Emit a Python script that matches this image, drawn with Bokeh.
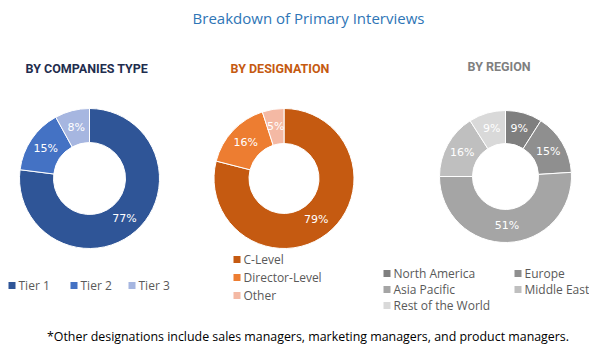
import math
from bokeh.plotting import figure
from bokeh.models import Range1d, ColumnDataSource
from bokeh.core.properties import value
from bokeh.embed import file_html
from bokeh.resources import INLINE

# ---- data ----
company_types = ["Tier 1", "Tier 2", "Tier 3"]
company_share = [77, 15, 8]
designations = ["C-Level", "Director-Level", "Other"]
designation_share = [79, 16, 5]
regions = ["North America", "Europe", "Asia Pacific", "Middle East", "Rest of the World"]
region_share = [9, 15, 51, 16, 9]

title_text = "Breakdown of Primary Interviews"
footnote_text = "*Other designations include sales managers, marketing managers, and product managers."

company_colors = ["#2F5597", "#4472C4", "#A6B6E0"]
designation_colors = ["#C55A11", "#ED7D31", "#F4B9A4"]
region_colors = ["#7F7F7F", "#8F8F8F", "#A5A5A5", "#BFBFBF", "#D9D9D9"]

W, H = 589, 348
p = figure(width=W, height=H, output_backend="svg", toolbar_location=None,
           x_range=Range1d(0, W), y_range=Range1d(356 - H, 356),
           min_border=0, min_border_left=0, min_border_right=0,
           min_border_top=0, min_border_bottom=0)
p.axis.visible = False
p.grid.visible = False
p.outline_line_color = None
p.background_fill_color = "white"


def Y(yy):
    return 356 - yy


def donut(cx, cy, R, r, shares, colors):
    total = float(sum(shares))
    starts, ends, lx, ly, labels = [], [], [], [], []
    cum = 0.0
    for s in shares:
        a0 = math.pi / 2 - cum / total * 2 * math.pi
        cum += s
        a1 = math.pi / 2 - cum / total * 2 * math.pi
        starts.append(a0)
        ends.append(a1)
        mid = (a0 + a1) / 2
        rm = (R + r) / 2
        lx.append(cx + rm * math.cos(mid))
        ly.append(Y(cy) + rm * math.sin(mid))
        labels.append(f"{s}%")
    src = ColumnDataSource(dict(x=[cx] * len(shares), y=[Y(cy)] * len(shares),
                                start=starts, end=ends, color=colors))
    p.annular_wedge(x="x", y="y", inner_radius=r, outer_radius=R,
                    inner_radius_units="screen", outer_radius_units="screen",
                    start_angle="start", end_angle="end", direction="clock",
                    fill_color="color", line_color="white", line_width=1, source=src)
    p.text(x=lx, y=ly, text=labels, text_color="white", text_font=value("DejaVu Sans"),
           text_font_size="11px", text_align="center", text_baseline="middle")


donut(89, 178, 70, 36, company_share, company_colors)
donut(283.5, 178, 70, 35, designation_share, designation_colors)
donut(505, 176, 66, 33, region_share, region_colors)

# titles
p.text(x=[308], y=[Y(17)], text=[title_text], text_color="#2E75B6",
       text_font=value("Open Sans"), text_font_size="15px",
       text_align="center", text_baseline="middle")
for tx, ty, t, c in [(25, 68, "BY COMPANIES TYPE", "#1F2D4E"),
                     (230, 68, "BY DESIGNATION", "#C55A11"),
                     (467, 66, "BY REGION", "#7F7F7F")]:
    p.text(x=[tx], y=[Y(ty)], text=[t], text_color=c, text_font=value("Roboto"),
           text_font_style="bold", text_font_size="12.5px",
           text_align="left", text_baseline="middle")

# legends
legend_font = value("Open Sans")
legend_color = "#595959"


def legend(items, colors, xs, ys):
    sx = [x + 3.5 for x in xs]
    p.scatter(x=sx, y=[Y(v) for v in ys], marker="square", size=7,
              fill_color=colors, line_color=None)
    p.text(x=[x + 10 for x in xs], y=[Y(v) for v in ys], text=items,
           text_color=legend_color, text_font=legend_font, text_font_size="12px",
           text_align="left", text_baseline="middle")


legend(company_types, company_colors, [8, 70, 128], [285, 285, 285])
legend(designations, designation_colors, [233, 233, 233], [259, 277, 295])
legend(regions, region_colors, [383, 514, 383, 514, 383], [273, 273, 289, 289, 305])

p.text(x=[307.5], y=[Y(336)], text=[footnote_text], text_color="#000000",
       text_font=value("Open Sans"), text_font_size="12.4px",
       text_align="center", text_baseline="middle")

open("out.html", "w").write(file_html(p, INLINE))
